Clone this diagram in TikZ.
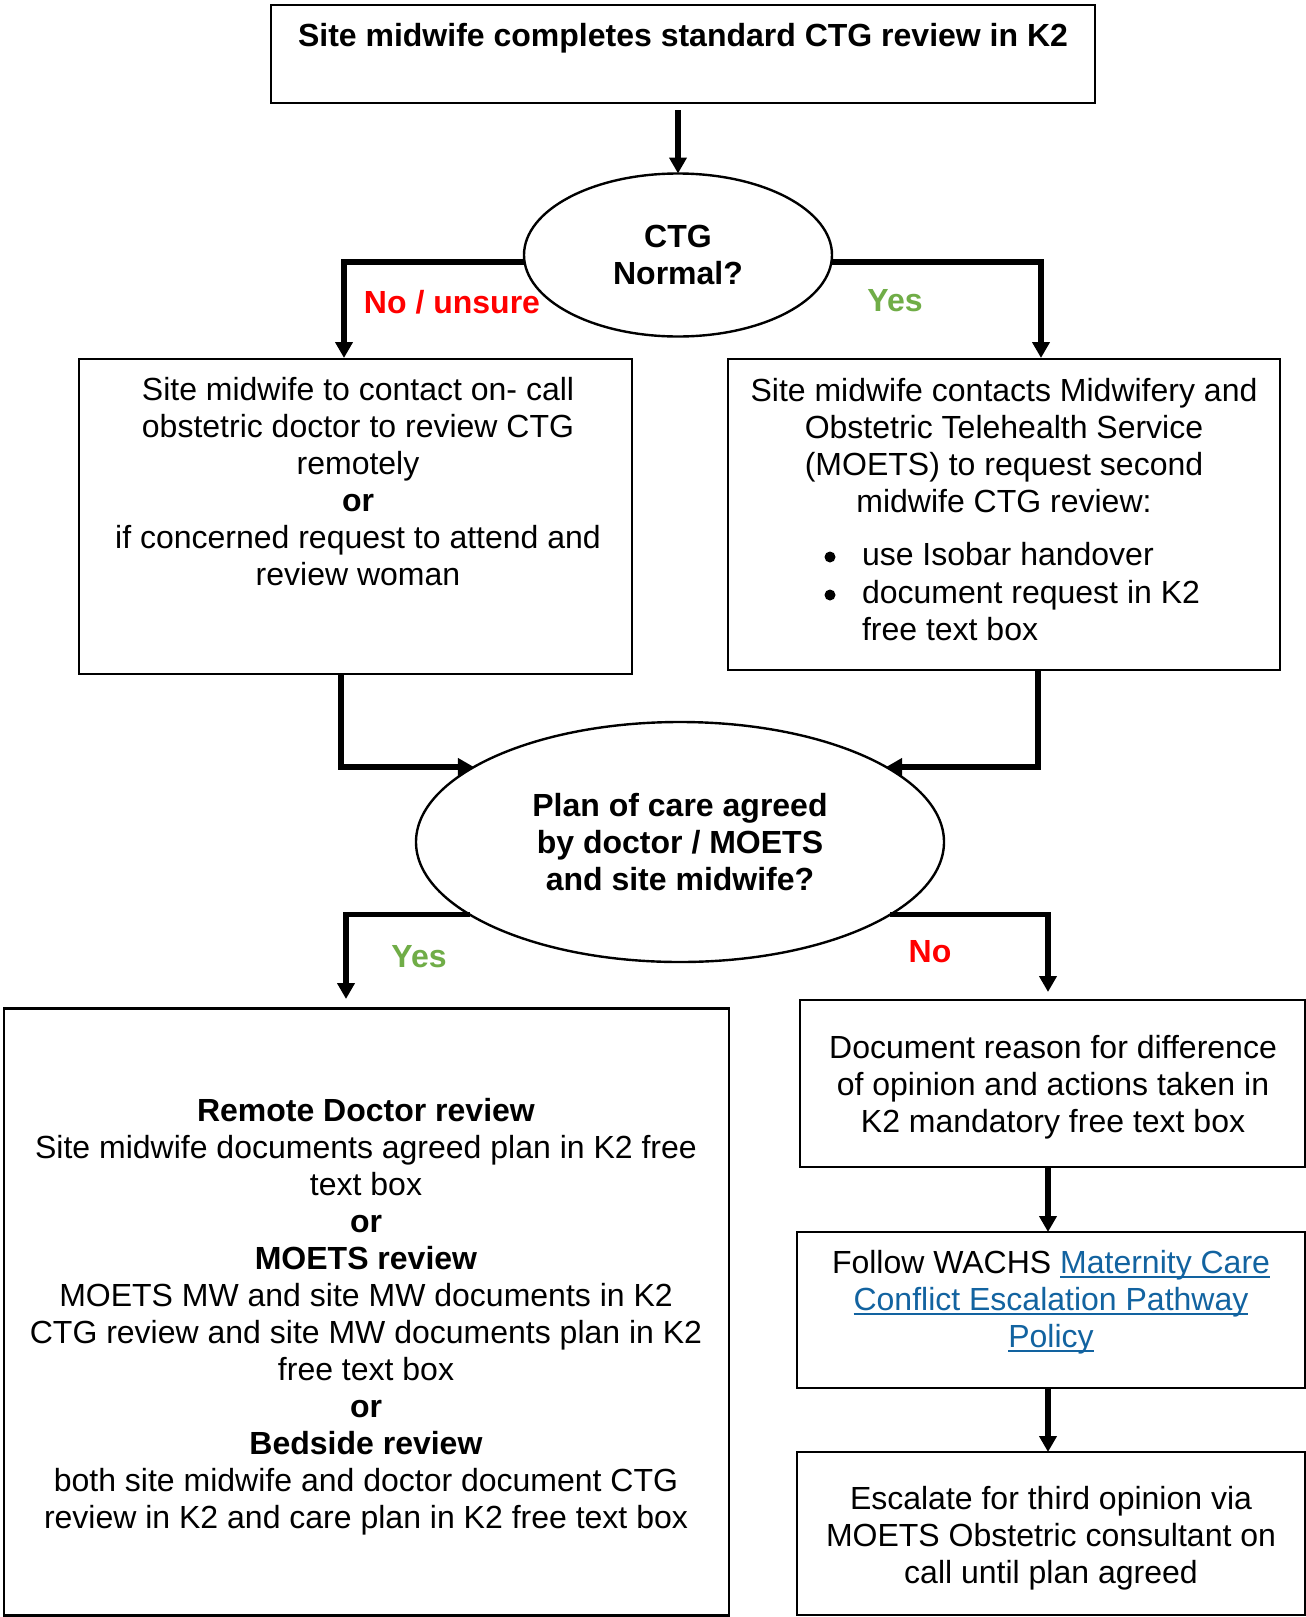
\documentclass[tikz,border=0pt]{standalone}
\usepackage{fontspec}
\setmainfont{Liberation Sans}
\usetikzlibrary{shapes.geometric,arrows.meta}
\definecolor{nored}{RGB}{255,0,0}
\definecolor{yesgreen}{RGB}{112,173,71}
\definecolor{linkblue}{RGB}{18,99,160}
\newcommand{\lnk}[1]{\textcolor{linkblue}{\setbox0\hbox{#1}\rlap{\rule[-4pt]{\wd0}{2pt}}\box0}}
\begin{document}
\begin{tikzpicture}[x=1pt,y=-1pt,
  every node/.style={font=\fontsize{32}{37}\selectfont, inner sep=0pt, outer sep=0pt},
  boxshape/.style={draw, rectangle, line width=2.8pt},
  ellshape/.style={draw, ellipse, line width=2.4pt, align=center, font=\fontsize{32}{37}\selectfont\bfseries},
  txt/.style={align=center},
  bulletdot/.style={circle, fill, minimum size=11pt},
  conn/.style={line width=5.5pt, -{Triangle[length=16pt,width=17pt]}}]
\useasboundingbox (0,0) rectangle (1306,1617);
\fill[white] (0,0) rectangle (1306,1617);

% boxes
\node[boxshape, minimum width=824pt, minimum height=98pt] (top) at (683,54) {};
\node[boxshape, minimum width=553pt, minimum height=315pt] (lbox) at (355.5,516.5) {};
\node[boxshape, minimum width=552pt, minimum height=311pt] (rbox) at (1004,514.5) {};
\node[boxshape, minimum width=725pt, minimum height=607pt] (blbox) at (366.5,1312) {};
\node[boxshape, minimum width=505pt, minimum height=167pt] (rb1) at (1052.5,1083.5) {};
\node[boxshape, minimum width=508pt, minimum height=156pt] (rb2) at (1051,1310) {};
\node[boxshape, minimum width=508pt, minimum height=163pt] (rb3) at (1051,1533.5) {};

% ellipses
\node[ellshape, minimum width=308pt, minimum height=163pt] (e1) at (678,255) {CTG\\Normal?};
\node[ellshape, minimum width=528pt, minimum height=240pt] (e2) at (680,842) {Plan of care agreed\\by doctor / MOETS\\and site midwife?};

% texts
\node[txt, font=\fontsize{32}{37}\selectfont\bfseries] (ttop) at (683,38) {Site midwife completes standard CTG review in K2};
\node[txt] (tl) at (358,482) {Site midwife to contact on- call\\obstetric doctor to review CTG\\remotely\\\textbf{or}\\if concerned request to attend and\\review woman};
\node[txt] (tr) at (1004,446) {Site midwife contacts Midwifery and\\Obstetric Telehealth Service\\(MOETS) to request second\\midwife CTG review:};
\node[bulletdot] (bu1) at (830,557) {};
\node[bulletdot] (bu2) at (830,595) {};
\node[anchor=base west] (bt1) at (862,565) {use Isobar handover};
\node[anchor=base west] (bt2) at (862,603) {document request in K2};
\node[anchor=base west] (bt3) at (862,640) {free text box};
\node[txt] (tbl) at (366,1316.5) {\textbf{Remote Doctor review}\\Site midwife documents agreed plan in K2 free\\text box\\\textbf{or}\\\textbf{MOETS review}\\MOETS MW and site MW documents in K2\\CTG review and site MW documents plan in K2\\free text box\\\textbf{or}\\\textbf{Bedside review}\\both site midwife and doctor document CTG\\review in K2 and care plan in K2 free text box};
\node[txt] (t1) at (1053,1087) {Document reason for difference\\of opinion and actions taken in\\K2 mandatory free text box};
\node[txt] (t2) at (1051,1302.5) {Follow WACHS \lnk{Maternity Care}\\\lnk{Conflict Escalation Pathway}\\\lnk{Policy}};
\node[txt] (t3) at (1051,1538) {Escalate for third opinion via\\MOETS Obstetric consultant on\\call until plan agreed};

% labels
\node[anchor=base, text=nored, font=\fontsize{32}{37}\selectfont\bfseries] (lno1) at (452,313) {No / unsure};
\node[anchor=base, text=yesgreen, font=\fontsize{32}{37}\selectfont\bfseries] (lyes1) at (895,311) {Yes};
\node[anchor=base, text=yesgreen, font=\fontsize{32}{37}\selectfont\bfseries] (lyes2) at (419,967) {Yes};
\node[anchor=base, text=nored, font=\fontsize{32}{37}\selectfont\bfseries] (lno2) at (930,962) {No};

% connector end points
\coordinate (s0) at (678,110);
\coordinate (a1) at (344,358);
\coordinate (a2) at (1041,358);
\coordinate (m1) at (341,674);
\coordinate (m2) at (1038,670);
\coordinate (t3p) at (346,999);
\coordinate (t4p) at (1048,992);

% connectors
\draw[conn] (s0) -- (e1.north);
\draw[conn] ([yshift=-7pt]e1.west) -| (a1);
\draw[conn] ([yshift=-7pt]e1.east) -| (a2);
\draw[conn] (m1) |- (e2.160);
\draw[conn] (m2) |- (e2.20);
\draw[conn] (e2.199) -| (t3p);
\draw[conn] (e2.341) -| (t4p);
\draw[conn] (rb1.south -| t4p) -- (rb2.north -| t4p);
\draw[conn] (rb2.south -| t4p) -- (rb3.north -| t4p);
\end{tikzpicture}
\end{document}
